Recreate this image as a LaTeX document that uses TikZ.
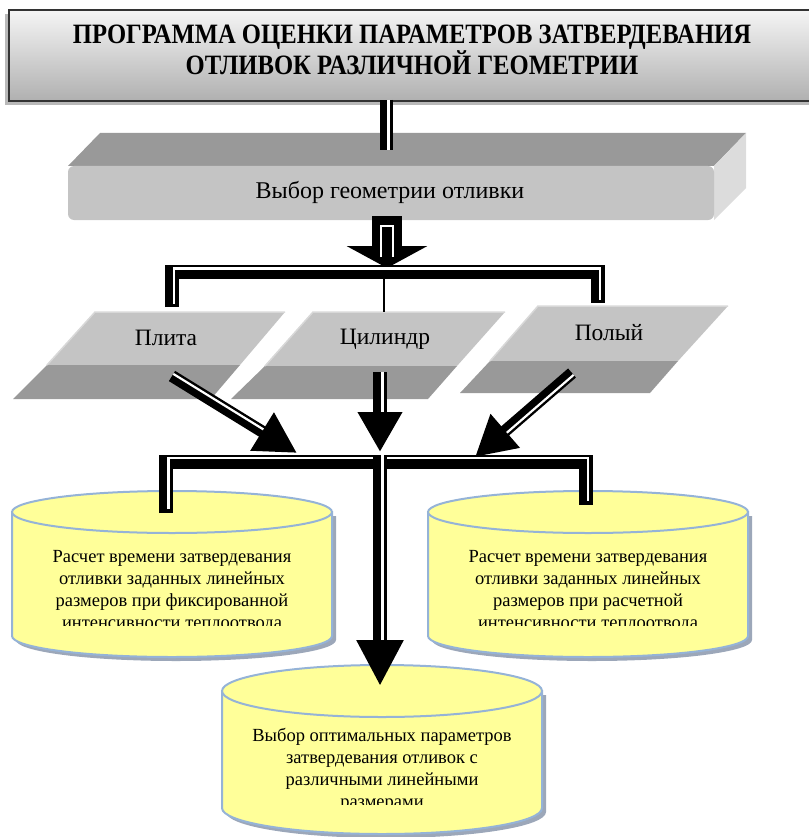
\documentclass[tikz,border=0pt]{standalone}
\usepackage{fontspec}
\setmainfont{Liberation Serif}
\newfontfamily\titlefont[FakeStretch=0.88]{Liberation Serif}
\usetikzlibrary{arrows.meta}
\definecolor{faceLight}{HTML}{C4C4C4}
\definecolor{faceDark}{HTML}{999999}
\definecolor{faceSide}{HTML}{DCDCDC}
\definecolor{faceEdge}{HTML}{D8D8D8}
\definecolor{drumFill}{HTML}{FFFF99}
\definecolor{drumLine}{HTML}{95B3D7}
\definecolor{drumShadow}{HTML}{8391A8}
% cylinder: centre x, top y, bottom y, x radius, y radius
\newcommand\drum[5]{%
  \fill[drumshade] ({#1-#4+4},{#2+4}) -- ({#1-#4+4},{#3+4}) arc[start angle=180, end angle=0, x radius=#4, y radius=#5] -- ({#1+#4+4},{#2+4}) -- cycle;
  \filldraw[drumbody] ({#1-#4},#2) -- ({#1-#4},#3) arc[start angle=180, end angle=0, x radius=#4, y radius=#5] -- ({#1+#4},#2) -- cycle;
  \filldraw[drumbody] (#1,#2) ellipse[x radius=#4, y radius=#5];}

\begin{document}
\begin{tikzpicture}[x=1pt, y=-1pt,
    blk/.style={draw=black, line width=13pt},
    stripe/.style={draw=white, line width=2.2pt},
    lbl/.style={font=\fontsize{23.5}{27}\selectfont},
    titletext/.style={align=center, font=\titlefont\bfseries\fontsize{28}{25.5}\selectfont},
    drumtext/.style={align=center, font=\fontsize{18.5}{22}\selectfont},
    drumbody/.style={fill=drumFill, draw=drumLine, line width=2pt},
    drumshade/.style={fill=drumShadow, opacity=0.8}]
    \useasboundingbox (0,0) rectangle (808,837);

    % title
    \fill[gray!55] (5,14) rectangle (812,105);
    \shade[top color=gray!8, bottom color=gray!62] (9,10) rectangle (812,101);
    \draw[gray!40!black, line width=1.2pt] (812,101) -- (9,101) -- (9,10) -- (812,10);
    \node[titletext] (title) at (412,50) {ПРОГРАММА ОЦЕНКИ ПАРАМЕТРОВ ЗАТВЕРДЕВАНИЯ\\ОТЛИВОК РАЗЛИЧНОЙ ГЕОМЕТРИИ};

    % slab
    \fill[faceDark] (68,166) -- (100,133) -- (746,133) -- (714,166) -- cycle;
    \fill[faceSide] (714,166) -- (746,133) -- (746,188) -- (714,220) -- cycle;
    \fill[faceLight, rounded corners=6pt] (68,166) rectangle (714,220);
    \node[lbl, font=\fontsize{24}{27}\selectfont] (slab) at (390,192) {Выбор геометрии отливки};

    % three kinds of casting
    \fill[faceLight] (95,312) -- (285,312) -- (240,365) -- (47,365) -- cycle;
    \fill[faceDark] (47,365) -- (240,365) -- (211,399) -- (13,399) -- cycle;
    \draw[faceEdge, line width=1.5pt] (47,365) -- (95,312) -- (285,312);
    \node[lbl] (plita) at (166,338) {Плита};

    \fill[faceLight] (313,312) -- (505,312) -- (457,366) -- (265,366) -- cycle;
    \fill[faceDark] (265,366) -- (457,366) -- (428,399) -- (231,399) -- cycle;
    \draw[faceEdge, line width=1.5pt] (265,366) -- (313,312) -- (505,312);
    \node[lbl] (cyl) at (385,339) {Цилиндр};

    \fill[faceLight] (538,306) -- (728,306) -- (678,361) -- (490,361) -- cycle;
    \fill[faceDark] (490,361) -- (678,361) -- (650,393) -- (460,393) -- cycle;
    \draw[faceEdge, line width=1.5pt] (490,361) -- (538,306) -- (728,306);
    \node[lbl] (hollow) at (609,333) {Полый};

    % cylinders
    \drum{172}{512}{636}{160}{21}
    \drum{588}{512}{636}{160}{21}
    \drum{382}{691}{808}{160}{26}
    \begin{scope}
        \clip (0,520) rectangle (808,625);
        \node[drumtext] (fixed) at (172,591) {Расчет времени затвердевания\\отливки заданных линейных\\размеров при фиксированной\\интенсивности теплоотвода};
        \node[drumtext] (calc) at (588,591) {Расчет времени затвердевания\\отливки заданных линейных\\размеров при расчетной\\интенсивности теплоотвода};
    \end{scope}
    \begin{scope}
        \clip (0,700) rectangle (808,804);
        \node[drumtext] (best) at (382,770) {Выбор оптимальных параметров\\затвердевания отливок с\\различными линейными\\размерами};
    \end{scope}

    % connectors
    \coordinate (titleS) at (386.5,100);
    \coordinate (slabN) at (386.5,150);
    \coordinate (slabS) at (387,216);
    \coordinate (forkN) at (387,268);
    \coordinate (fork) at (384,272);
    \coordinate (plitaN) at (171.5,307);
    \coordinate (hollowN) at (597.5,303);
    \coordinate (cylN) at (384,312);
    \coordinate (plitaS) at (172,376);
    \coordinate (cylS) at (380,372);
    \coordinate (hollowS) at (572,373);
    \coordinate (joinL) at (297,453);
    \coordinate (joinM) at (380,452);
    \coordinate (joinR) at (475,457);
    \coordinate (join) at (380,462);
    \coordinate (joinTop) at (380,455);
    \coordinate (fixedN) at (166,513);
    \coordinate (calcN) at (585.5,505);
    \coordinate (bestN) at (380,686);

    \draw[blk] (titleS) -- (slabN);
    \draw[stripe, transform canvas={shift={(2,0)}}] (titleS) -- (slabN);

    \draw[line width=30pt, -{Triangle[length=22pt,width=80pt]}] (slabS) -- (forkN);
    \draw[white, line width=1.5pt] (381,257) -- (381,226) -- (393,226) -- (393,257);

    \draw[blk, line width=14pt] (plitaN) |- (fork) -| (hollowN);
    \draw[stripe, transform canvas={shift={(2.5,-3.5)}}] (plitaN) |- (fork) -| (hollowN);
    \draw[line width=1.2pt] (fork) -- (cylN);

    \draw[blk, line width=12pt, -{Triangle[length=41pt,width=42pt]}] (plitaS) -- (joinL);
    \draw[stripe, shorten >=41pt, transform canvas={shift={(1.3,-2.1)}}] (plitaS) -- (joinL);
    \draw[blk, line width=14pt, -{Triangle[length=40pt,width=42pt]}] (cylS) -- (joinM);
    \draw[stripe, shorten >=40pt, transform canvas={shift={(2.5,0)}}] (cylS) -- (joinM);
    \draw[blk, line width=12pt, -{Triangle[length=40pt,width=42pt]}] (hollowS) -- (joinR);
    \draw[stripe, shorten >=40pt, transform canvas={shift={(1.6,1.9)}}] (hollowS) -- (joinR);

    \draw[blk, line width=14pt] (fixedN) |- (join) -| (calcN);
    \draw[stripe, transform canvas={shift={(2.5,-4)}}] (fixedN) |- (join) -| (calcN);
    \draw[blk, line width=14pt, -{Triangle[length=46pt,width=44pt]}] (joinTop) -- (bestN);
    \draw[stripe, shorten >=46pt, transform canvas={shift={(2.5,0)}}] (joinTop) -- (bestN);
\end{tikzpicture}
\end{document}
